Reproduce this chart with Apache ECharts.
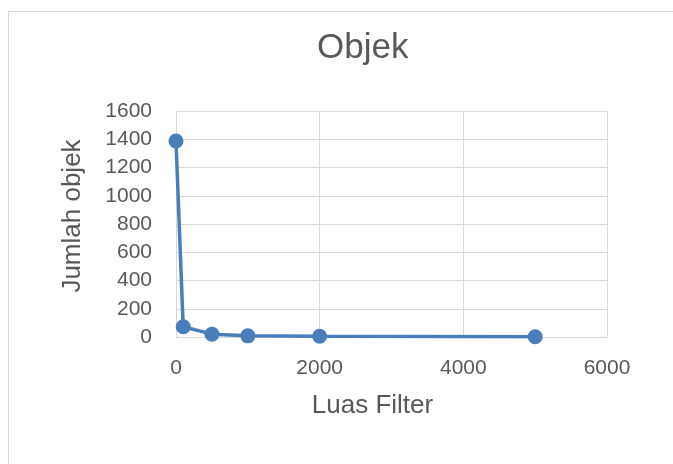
<!DOCTYPE html>
<html><head><meta charset="utf-8">
<script src="https://cdn.jsdelivr.net/npm/echarts@6/dist/echarts.min.js"></script>
<style>
html,body{margin:0;padding:0;background:#fff;}
#frame{position:absolute;left:8px;top:11px;width:700px;height:500px;border:1px solid #d9d9d9;box-sizing:border-box;}
#c{position:absolute;left:0;top:0;width:673px;height:464px;}
</style></head>
<body>
<div id="frame"></div>
<div id="c"></div>
<script>
const xValues = [0, 100, 500, 1000, 2000, 5000];
const yValues = [1388, 73, 20, 8, 5, 2];
const titleText = 'Objek';
const xName = 'Luas Filter';
const yName = 'Jumlah objek';
const font = '"Liberation Sans", Arial, sans-serif';
const chart = echarts.init(document.getElementById('c'));
chart.setOption({
  animation:false,
  title:{text:titleText,left:312,top:26,textStyle:{fontFamily:font,fontSize:35,fontWeight:'normal',color:'#595959'}},
  grid:{left:176,right:66,top:111,bottom:127},
  xAxis:{type:'value',min:0,max:6000,interval:2000,name:xName,nameLocation:'middle',nameGap:56,
    nameTextStyle:{fontFamily:font,fontSize:26,color:'#595959',padding:[0,38,0,0]},
    axisLine:{show:true,lineStyle:{color:'#d9d9d9'}},axisTick:{show:false},
    axisLabel:{fontFamily:font,fontSize:21,color:'#595959',margin:21,formatter:v=>String(v)},
    splitLine:{show:true,lineStyle:{color:'#d9d9d9',width:1}}},
  yAxis:{type:'value',min:0,max:1600,interval:200,name:yName,nameLocation:'middle',nameGap:90,
    nameTextStyle:{fontFamily:font,fontSize:26,color:'#595959',padding:[0,0,0,16]},
    axisLine:{show:false},axisTick:{show:false},
    axisLabel:{fontFamily:font,fontSize:21,color:'#595959',margin:24,formatter:v=>String(v)},
    splitLine:{show:true,lineStyle:{color:'#d9d9d9',width:1}}},
  series:[{type:'line',data:xValues.map((x,i)=>[x,yValues[i]]),
    symbol:'circle',symbolSize:15,
    lineStyle:{color:'#4a7ebb',width:3.5},
    itemStyle:{color:'#4a7ebb'}}]
});
</script>
</body></html>
